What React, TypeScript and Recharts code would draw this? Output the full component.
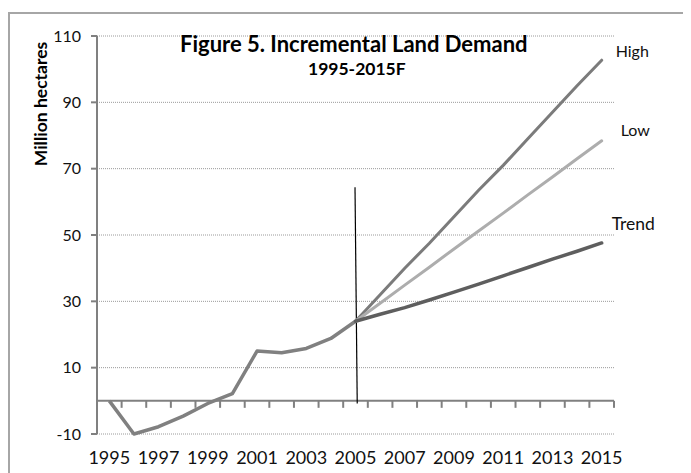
import React from 'react';
import { LineChart, Line, XAxis, YAxis, CartesianGrid, ReferenceLine } from 'recharts';

const YEARS = [1995, 1996, 1997, 1998, 1999, 2000, 2001, 2002, 2003, 2004, 2005, 2006, 2007, 2008, 2009, 2010, 2011, 2012, 2013, 2014, 2015];
// history 1995-2005
const ACTUAL = [0, -10, -7.8, -4.6, -0.8, 2.2, 15, 14.5, 15.8, 18.8, 24];
// forecasts 2005-2015
const HIGH = [24, 32, 40, 47.5, 55.5, 63.5, 71, 79, 87, 95, 102.7];
const LOW = [24, 29.4, 34.9, 40.3, 45.8, 51.2, 56.6, 62.1, 67.5, 73, 78.4];
const TREND = [24, 26.1, 28.1, 30.4, 32.8, 35.2, 37.7, 40.2, 42.7, 45.1, 47.6];

const Y_TICKS = [-10, 10, 30, 50, 70, 90, 110];
const SPLIT_YEAR = 2005;

const FONT = 'Lato, "Open Sans", sans-serif';
const AXIS_GREY = '#808080';

const W = 691;
const H = 473;
const MARGIN = { top: 36, right: 77, bottom: 9, left: 47 };
const Y_AXIS_W = 50;
const X_AXIS_H = 30;
const X_TICK_MARGIN = 17;
const Y_DOMAIN = [-10, 110];

const splitIdx = YEARS.indexOf(SPLIT_YEAR);
const data = YEARS.map((year, i) => ({
  year,
  actual: i <= splitIdx ? ACTUAL[i] : null,
  high: i >= splitIdx ? HIGH[i - splitIdx] : null,
  low: i >= splitIdx ? LOW[i - splitIdx] : null,
  trend: i >= splitIdx ? TREND[i - splitIdx] : null,
}));

const plotW = W - MARGIN.left - MARGIN.right - Y_AXIS_W;
const plotH = H - MARGIN.top - MARGIN.bottom - X_AXIS_H;
const halfStep = plotW / YEARS.length / 2;
// distance from the bottom of the plot up to the zero line
const zeroUp = plotH * (0 - Y_DOMAIN[0]) / (Y_DOMAIN[1] - Y_DOMAIN[0]);

// label every other year; tick marks between every year, hung off the zero line (Excel style)
const XTick = (props: any) => {
  const x = Number(props.x);
  const y = Number(props.y);
  const year = props.payload.value;
  const zeroY = y - X_TICK_MARGIN - zeroUp;
  return (
    <g>
      <rect x={x + halfStep - 1} y={zeroY} width={2} height={7} fill={AXIS_GREY} />
      {(year - YEARS[0]) % 2 === 0 && (
        <text x={x} y={y} dy="0.71em" textAnchor="middle" fontFamily={FONT} fontSize={18} fill="#111">
          {year}
        </text>
      )}
    </g>
  );
};

const endLabel = (text: string, dx: number, dy: number, size: number, last: number) => (props: any) => {
  if (props.index !== last) return null;
  return (
    <text x={Number(props.x) + dx} y={Number(props.y) + dy} fontFamily={FONT} fontSize={size} fill="#111">
      {text}
    </text>
  );
};

export default function App() {
  const last = YEARS.length - 1;
  return (
    <div style={{ position: 'relative', width: W, height: H, margin: '-8px 0 0 -8px', overflow: 'hidden', background: '#fff' }}>
      {/* chart frame, cut off at right and bottom */}
      <div style={{ position: 'absolute', left: 8, top: 12, width: 800, height: 600, borderLeft: '2px solid #a6a6a6', borderTop: '2px solid #a6a6a6' }} />
      <div style={{ position: 'absolute', left: 0, top: 0 }}>
        <LineChart width={W} height={H} data={data} margin={MARGIN}>
          <CartesianGrid vertical={false} stroke="#9a9a9a" strokeDasharray="1 1" />
          <XAxis
            dataKey="year"
            type="number"
            domain={[YEARS[0] - 0.5, YEARS[last] + 0.5]}
            ticks={YEARS}
            axisLine={false}
            tickLine={false}
            tickSize={0}
            tickMargin={X_TICK_MARGIN}
            height={X_AXIS_H}
            interval={0}
            tick={<XTick />}
          />
          <YAxis
            domain={Y_DOMAIN}
            ticks={Y_TICKS}
            width={Y_AXIS_W}
            axisLine={{ stroke: AXIS_GREY, strokeWidth: 2 }}
            tickLine={{ stroke: AXIS_GREY, strokeWidth: 2 }}
            tickSize={6}
            tickMargin={10}
            interval={0}
            tick={{ fontFamily: FONT, fontSize: 16, fill: '#111' }}
          />
          <ReferenceLine y={0} stroke={AXIS_GREY} strokeWidth={2} />
          <ReferenceLine segment={[{ x: 2004.98, y: 64.4 }, { x: 2005.07, y: -0.8 }]} stroke="#000" strokeWidth={1.2} />
          <Line dataKey="actual" stroke="#808080" strokeWidth={3.5} dot={false} isAnimationActive={false} strokeLinejoin="round" />
          <Line dataKey="high" stroke="#7b7b7b" strokeWidth={3} dot={false} isAnimationActive={false} strokeLinecap="round"
            label={endLabel('High', 14, -3, 16, last)} />
          <Line dataKey="low" stroke="#adadad" strokeWidth={3} dot={false} isAnimationActive={false} strokeLinecap="round"
            label={endLabel('Low', 19, -5, 16, last)} />
          <Line dataKey="trend" stroke="#5e5e5e" strokeWidth={3.5} dot={false} isAnimationActive={false} strokeLinecap="round"
            label={endLabel('Trend', 10, -13, 17.5, last)} />
        </LineChart>
      </div>
      <svg width={W} height={H} style={{ position: 'absolute', left: 0, top: 0, pointerEvents: 'none' }}>
        <text x={180} y={52} fontFamily={FONT} fontWeight="bold" fontSize={22} fill="#000">
          Figure 5. Incremental Land Demand
        </text>
        <text x={308} y={75} fontFamily={FONT} fontWeight="bold" fontSize={17.5} fill="#000">
          1995-2015F
        </text>
        <text transform="translate(47,104) rotate(-90)" textAnchor="middle" fontFamily={FONT} fontWeight="bold" fontSize={17.5} fill="#000">
          Million hectares
        </text>
      </svg>
    </div>
  );
}
